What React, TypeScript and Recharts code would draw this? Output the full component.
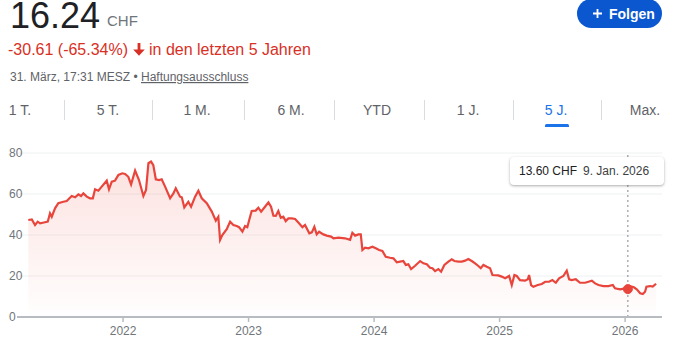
import React from "react";
import {
  AreaChart,
  Area,
  XAxis,
  YAxis,
  CartesianGrid,
  ReferenceLine,
  ReferenceDot,
} from "recharts";

// Time in decimal years, price in CHF
const years: number[] = [
  2021.245, 2021.273, 2021.299, 2021.32, 2021.339, 2021.378, 2021.4, 2021.418, 2021.432, 2021.458,
  2021.484, 2021.524, 2021.551, 2021.591, 2021.618, 2021.644, 2021.665, 2021.684, 2021.711, 2021.737,
  2021.759, 2021.777, 2021.803, 2021.83, 2021.87, 2021.888, 2021.91, 2021.936, 2021.963, 2021.994,
  2022.016, 2022.042, 2022.064, 2022.096, 2022.127, 2022.162, 2022.183, 2022.202, 2022.223, 2022.241,
  2022.261, 2022.287, 2022.308, 2022.335, 2022.375, 2022.401, 2022.42, 2022.454, 2022.468, 2022.488,
  2022.52, 2022.542, 2022.574, 2022.6, 2022.627, 2022.667, 2022.707, 2022.739, 2022.759, 2022.773,
  2022.791, 2022.826, 2022.853, 2022.879, 2022.906, 2022.924, 2022.951, 2022.972, 2022.99, 2023.012,
  2023.025, 2023.057, 2023.078, 2023.1, 2023.131, 2023.158, 2023.179, 2023.198, 2023.217, 2023.237,
  2023.257, 2023.277, 2023.296, 2023.317, 2023.344, 2023.371, 2023.402, 2023.429, 2023.45, 2023.484,
  2023.504, 2023.524, 2023.543, 2023.562, 2023.596, 2023.623, 2023.657, 2023.676, 2023.716, 2023.769,
  2023.809, 2023.827, 2023.849, 2023.875, 2023.894, 2023.907, 2023.928, 2023.955, 2023.986, 2024.014,
  2024.04, 2024.066, 2024.093, 2024.127, 2024.154, 2024.181, 2024.207, 2024.233, 2024.253, 2024.273,
  2024.295, 2024.327, 2024.367, 2024.393, 2024.42, 2024.446, 2024.465, 2024.486, 2024.512, 2024.534,
  2024.56, 2024.592, 2024.619, 2024.64, 2024.672, 2024.699, 2024.725, 2024.751, 2024.778, 2024.805,
  2024.831, 2024.85, 2024.871, 2024.898, 2024.924, 2024.943, 2024.99, 2025.017, 2025.044, 2025.076,
  2025.097, 2025.118, 2025.137, 2025.163, 2025.203, 2025.225, 2025.235, 2025.251, 2025.269, 2025.304,
  2025.336, 2025.363, 2025.394, 2025.421, 2025.448, 2025.474, 2025.508, 2025.535, 2025.554, 2025.575,
  2025.607, 2025.641, 2025.681, 2025.708, 2025.735, 2025.761, 2025.788, 2025.827, 2025.867, 2025.902,
  2025.92, 2025.96, 2025.998, 2026.022, 2026.038, 2026.07, 2026.093, 2026.12, 2026.141, 2026.159,
  2026.17, 2026.199, 2026.22, 2026.247,
];

const prices: number[] = [
  47.3, 47.6, 44.9, 46.5, 45.7, 46.2, 46.5, 50.6, 48.9, 53.0,
  55.5, 56.2, 56.6, 59.0, 58.4, 59.8, 59.0, 60.3, 58.7, 57.9,
  57.9, 62.3, 61.6, 63.6, 66.5, 62.3, 66.0, 66.5, 69.3, 70.1,
  69.8, 68.4, 64.7, 71.4, 66.8, 59.0, 62.0, 75.0, 75.8, 74.1,
  67.2, 66.8, 67.2, 63.6, 57.9, 60.3, 62.8, 58.7, 58.4, 53.5,
  56.2, 53.8, 58.7, 61.6, 57.9, 55.5, 51.4, 47.0, 48.9, 37.6,
  40.0, 42.8, 46.5, 44.9, 44.4, 43.8, 41.6, 44.4, 43.8, 48.9,
  51.7, 51.9, 53.3, 51.4, 53.8, 55.9, 53.8, 49.4, 49.3, 51.7,
  48.4, 48.9, 46.8, 48.1, 48.1, 47.8, 45.7, 43.8, 44.9, 40.8,
  41.3, 44.0, 40.3, 41.6, 40.3, 39.7, 39.2, 38.4, 38.7, 38.4,
  37.6, 41.1, 39.7, 40.3, 40.3, 32.7, 33.8, 33.5, 34.3, 33.5,
  32.7, 32.2, 29.4, 28.9, 28.6, 26.7, 27.0, 27.3, 25.4, 25.7,
  23.4, 25.0, 27.3, 26.2, 25.7, 24.0, 23.8, 22.4, 23.4, 22.1,
  25.4, 27.0, 28.1, 27.3, 27.0, 27.0, 27.5, 28.3, 27.3, 26.2,
  24.9, 23.8, 25.4, 24.5, 23.8, 20.5, 20.3, 19.7, 18.9, 20.0,
  15.6, 20.5, 20.0, 18.0, 17.7, 18.4, 20.5, 15.6, 14.8, 15.6,
  16.1, 17.2, 17.2, 18.0, 16.7, 18.9, 20.0, 22.6, 18.4, 18.0,
  18.4, 16.7, 16.7, 17.2, 17.7, 16.4, 15.6, 15.1, 15.1, 15.6,
  14.0, 13.5, 14.0, 13.6, 15.1, 14.5, 13.5, 11.6, 11.2, 12.3,
  14.8, 15.1, 14.8, 16.24,
];

const xTicks: number[] = [2022, 2023, 2024, 2025, 2026];
const yTicks: number[] = [0, 20, 40, 60, 80];
const tabLabels: string[] = ["1 T.", "5 T.", "1 M.", "6 M.", "YTD", "1 J.", "5 J.", "Max."];
const selectedTab = "5 J.";

const highlightIndex = 183;
const highlightDateLabel = "9. Jan. 2026";

const headerPrice = "16.24";
const currency = "CHF";
const changeText = "-30.61 (-65.34%)";
const periodText = "in den letzten 5 Jahren";
const timeText = "31. März, 17:31 MESZ • ";
const disclaimerText = "Haftungsausschluss";
const followText = "Folgen";

const data = years.map((t, i) => ({ t, v: prices[i] }));

const FONT = '"Liberation Sans", Arial, Helvetica, sans-serif';
const RED = "#e8453c";

const tabCenters = [20, 108, 197, 291, 377, 468, 556, 645];
const sepXs = [64, 152, 244, 334, 424, 513, 601];

const YTick = (props: any) => {
  const { y, payload } = props;
  return (
    <text x={9} y={y} dy={4} fontSize={12} fill="#70757a" fontFamily={FONT} textAnchor="start">
      {payload.value}
    </text>
  );
};

export default function App() {
  const hl = data[highlightIndex];
  return (
    <div
      style={{
        position: "absolute",
        left: 0,
        top: 0,
        width: 674,
        height: 354,
        overflow: "hidden",
        background: "#fff",
        fontFamily: FONT,
      }}
    >
      <div style={{ position: "absolute", left: 0, top: 0 }}>
        <AreaChart
          width={674}
          height={354}
          data={data}
          margin={{ top: 153, right: 12, left: 0, bottom: 0 }}
        >
          <defs>
            <linearGradient id="fillGrad" x1="0" y1="0" x2="0" y2="1">
              <stop offset="0%" stopColor="#ea4335" stopOpacity={0.26} />
              <stop offset="100%" stopColor="#ea4335" stopOpacity={0.01} />
            </linearGradient>
          </defs>
          <CartesianGrid vertical={false} stroke="#eef0f1" strokeWidth={1} />
          <XAxis
            dataKey="t"
            type="number"
            domain={[2021.155, 2026.294]}
            ticks={xTicks}
            tickFormatter={(v: number) => String(Math.round(v))}
            height={37}
            axisLine={{ stroke: "#b8bcc0", strokeWidth: 2 }}
            tickLine={{ stroke: "#b8bcc0", strokeWidth: 1.5 }}
            tickSize={5}
            tickMargin={4}
            tick={{ fontSize: 12, fill: "#70757a", fontFamily: FONT }}
          />
          <YAxis
            type="number"
            domain={[0, 80]}
            ticks={yTicks}
            width={17}
            axisLine={false}
            tickLine={false}
            tick={<YTick />}
          />
          <Area
            type="linear"
            dataKey="v"
            stroke={RED}
            strokeWidth={2.2}
            fill="url(#fillGrad)"
            isAnimationActive={false}
            dot={false}
            activeDot={false}
          />
          <ReferenceLine x={hl.t} stroke="#80868b" strokeDasharray="2 3" strokeWidth={1} />
          <ReferenceDot x={hl.t} y={hl.v} r={4.5} fill={RED} stroke={RED} />
        </AreaChart>
      </div>

      <svg
        width={674}
        height={140}
        style={{ position: "absolute", left: 0, top: 0, pointerEvents: "none" }}
        fontFamily={FONT}
      >
        <text x={10} y={28} fontSize={36} fill="#202124">
          {headerPrice}
        </text>
        <text x={107} y={26} fontSize={15} fill="#70757a">
          {currency}
        </text>
        <text x={8} y={55} fontSize={16} fill="#d93025">
          {changeText}
        </text>
        <path d="M137.6 43h2.8v6.5h4.4l-5.8 6.2-5.8-6.2h4.4z" fill="#d93025" />
        <text x={149} y={55} fontSize={16} fill="#d93025">
          {periodText}
        </text>
        <text x={10} y={81} fontSize={12} fill="#5f6368">
          {timeText}
        </text>
        <text x={141} y={81} fontSize={12} fill="#5f6368" style={{ textDecoration: "underline" }}>
          {disclaimerText}
        </text>

        <rect x={577} y={-1} width={85} height={29} rx={14.5} fill="#0b57d0" />
        <path d="M593 13.5h9M597.5 9v9" stroke="#fff" strokeWidth={1.8} />
        <text x={609} y={18.5} fontSize={14} fontWeight={600} fill="#fff">
          {followText}
        </text>

        {tabLabels.map((lab, i) => (
          <text
            key={lab}
            x={tabCenters[i]}
            y={115}
            fontSize={14}
            textAnchor="middle"
            fill={lab === selectedTab ? "#1a73e8" : "#5f6368"}
          >
            {lab}
          </text>
        ))}
        {sepXs.map((x) => (
          <line key={x} x1={x + 0.5} x2={x + 0.5} y1={100} y2={120} stroke="#dadce0" strokeWidth={1} />
        ))}
        <path d="M545 127v-1.5a1.5 1.5 0 0 1 1.5-1.5h21a1.5 1.5 0 0 1 1.5 1.5v1.5z" fill="#1a73e8" />
      </svg>

      <div
        style={{
          position: "absolute",
          left: 510,
          top: 157,
          width: 154,
          height: 28,
          background: "#fff",
          borderRadius: 4,
          boxShadow: "0 1px 3px rgba(60,64,67,0.3), 0 1px 2px rgba(60,64,67,0.15)",
          fontSize: 12,
          lineHeight: "28px",
          color: "#202124",
          whiteSpace: "nowrap",
          boxSizing: "border-box",
          paddingLeft: 9,
        }}
      >
        <span>{hl.v.toFixed(2) + " " + currency}</span>
        <span style={{ marginLeft: 6, color: "#3c4043" }}>{highlightDateLabel}</span>
      </div>
    </div>
  );
}
